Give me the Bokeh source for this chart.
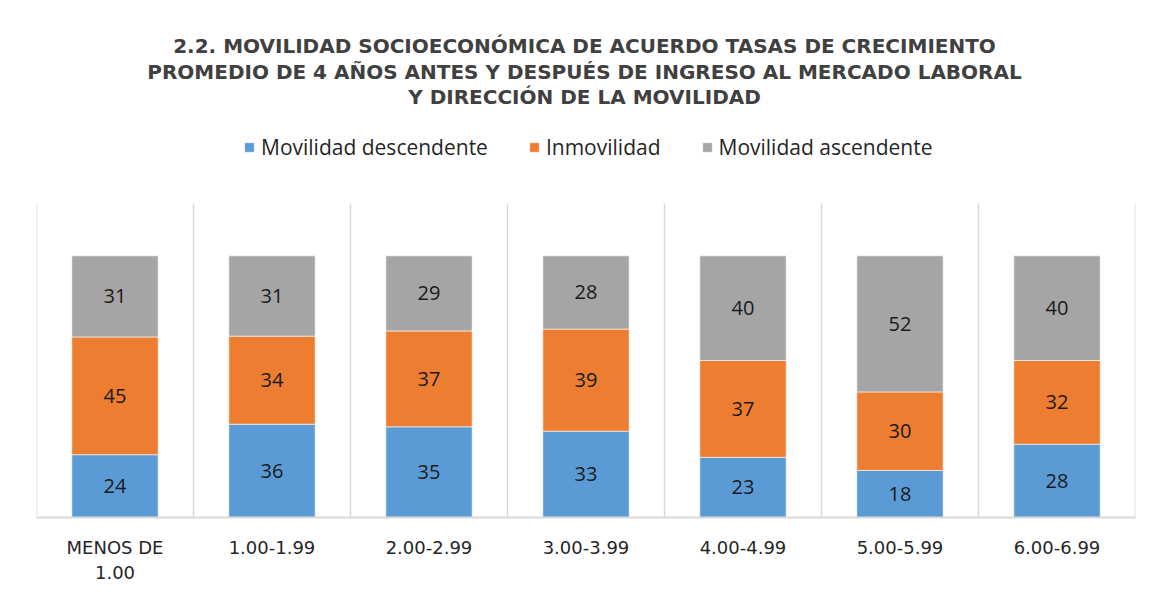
from bokeh.plotting import figure
from bokeh.models import Label, Legend, LegendItem, FixedTicker, ColumnDataSource, Range1d
from bokeh.embed import file_html
from bokeh.resources import INLINE
from bokeh.core.properties import value

# ---------------- data ----------------
categories = ["MENOS DE\n1.00", "1.00-1.99", "2.00-2.99", "3.00-3.99",
              "4.00-4.99", "5.00-5.99", "6.00-6.99"]
descendente = [24, 36, 35, 33, 23, 18, 28]
inmovilidad = [45, 34, 37, 39, 37, 30, 32]
ascendente = [31, 31, 29, 28, 40, 52, 40]
series_names = ["Movilidad descendente", "Inmovilidad", "Movilidad ascendente"]
series_colors = ["#5B9BD5", "#ED7D31", "#A5A5A5"]
title_lines = [
    "2.2. MOVILIDAD SOCIOECONÓMICA DE ACUERDO TASAS DE CRECIMIENTO",
    "PROMEDIO DE 4 AÑOS ANTES Y DESPUÉS DE INGRESO AL MERCADO LABORAL",
    "Y DIRECCIÓN DE LA MOVILIDAD",
]
AXIS_MAX = 120

# ---------------- layout (pixels) ----------------
W, H = 1151, 592
FRAME_LEFT, FRAME_RIGHT, FRAME_BOTTOM = 36, 1135, 517
GRID_H = 314                            # pixel height of the 0..AXIS_MAX value area
y_end = AXIS_MAX * FRAME_BOTTOM / GRID_H

# ---------------- derived (100% stacked) ----------------
n = len(categories)
centers = [i + 0.5 for i in range(n)]
raw = [descendente, inmovilidad, ascendente]
totals = [sum(v[i] for v in raw) for i in range(n)]
keys = ["desc", "inmo", "asc"]
data = {"x": centers}
for k, v in zip(keys, raw):
    data[k] = [v[i] / totals[i] * 100 for i in range(n)]
source = ColumnDataSource(data)

p = figure(width=W, height=H, output_backend="svg", toolbar_location=None,
           x_range=Range1d(0, n), y_range=Range1d(0, y_end),
           min_border_left=FRAME_LEFT, min_border_right=W - FRAME_RIGHT,
           min_border_top=0, min_border_bottom=H - FRAME_BOTTOM)
p.outline_line_color = None
p.background_fill_color = "white"
p.border_fill_color = "white"

# category separators (vertical lines spanning the value area)
sep = list(range(n + 1))
p.segment(x0=sep, y0=[0] * len(sep), x1=sep, y1=[AXIS_MAX] * len(sep),
          line_color="#d9d9d9", line_width=1.5)

renderers = p.vbar_stack(keys, x="x", width=0.55, source=source,
                         color=series_colors, line_color="white", line_width=0.6)

# data labels
lx, ly, lt = [], [], []
for i in range(n):
    base = 0.0
    for k, v in zip(keys, raw):
        h = data[k][i]
        lx.append(centers[i])
        ly.append(base + h / 2)
        lt.append(str(v[i]))
        base += h
p.text(x=lx, y=ly, text=lt, text_align="center", text_baseline="middle",
       text_font=value("Open Sans"), text_font_size="20px", text_color="#1a1a1a")

# axes
p.yaxis.visible = False
p.ygrid.visible = False
p.xgrid.visible = False
xa = p.xaxis[0]
xa.ticker = FixedTicker(ticks=centers)
xa.major_label_overrides = {c: lab for c, lab in zip(centers, categories)}
xa.axis_line_color = "#d9d9d9"
xa.axis_line_width = 2
xa.major_tick_line_color = None
xa.minor_tick_line_color = None
xa.major_label_text_font = "DejaVu Sans"
xa.major_label_text_font_size = "18px"
xa.major_label_text_color = "#262626"
xa.major_label_standoff = 13

# title
for line, yy in zip(title_lines, [472, 446, 421]):
    p.add_layout(Label(x=548, y=yy, x_units="screen", y_units="screen", text=line,
                       text_align="center", text_baseline="middle",
                       text_font="DejaVu Sans", text_font_style="bold",
                       text_font_size="20px", text_color="#404040"))

# legend
legend = Legend(items=[LegendItem(label=nm, renderers=[r]) for nm, r in zip(series_names, renderers)],
                location=(207, 356), orientation="horizontal",
                glyph_width=12, glyph_height=12, label_standoff=6, spacing=40,
                padding=0, margin=0, border_line_color=None, background_fill_alpha=0,
                label_text_font="Open Sans", label_text_font_size="21px",
                label_text_color="#262626")
p.add_layout(legend)

open("out.html", "w").write(file_html(p, INLINE))
